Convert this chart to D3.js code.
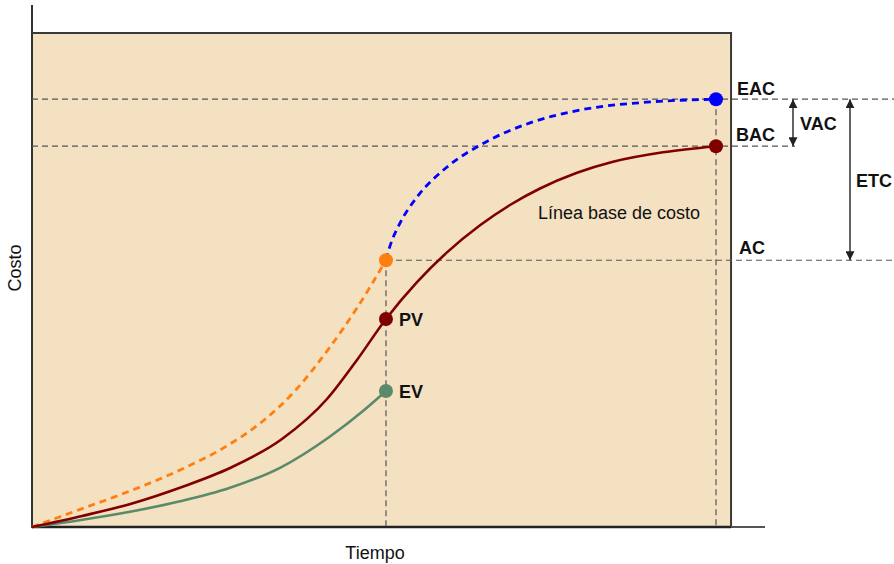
<!DOCTYPE html>
<html><head><meta charset="utf-8">
<script src="https://cdn.jsdelivr.net/npm/d3@7"></script>
<style>body{margin:0;background:#fff}svg{display:block;font-family:"Liberation Sans",Arial,sans-serif}</style>
</head><body><svg id="c" width="894" height="564"></svg>
<script>
// Data (time 0..100, cost 0..100)
const statusTime = 51.75;
const pvCurve = [[0,0],[7.31,2.23],[14.62,4.76],[21.93,8.10],[28.95,11.94],[36.55,17.81],[43.13,25.91],[47.51,33.81],[51.75,42.11],[56.29,49.57],[60.67,55.59],[65.50,61.07],[69.88,65.18],[74.27,68.52],[79.68,71.70],[84.94,73.93],[92.25,75.85],[100,77.09]];
const acCurve = [[0,0],[7.16,3.62],[14.33,7.29],[21.64,11.54],[28.95,16.80],[33.77,21.46],[38.16,27.13],[43.57,36.44],[47.51,44.33],[51.75,54.0]];
const evCurve = [[0,0],[7.16,1.42],[14.33,3.08],[21.64,5.20],[28.95,7.94],[36.26,11.98],[43.57,18.32],[48.39,23.48],[51.75,27.53]];
const eacCurve = [[51.75,54.0],[52.3,56.7],[53.8,61.5],[56.3,66.8],[60.7,72.9],[65.5,77.3],[72.8,81.8],[80.1,84.4],[89.9,86.0],[100,86.6]];
const pvValue = 42.11, evValue = 27.53, acValue = 54.0, bacValue = 77.09, eacValue = 86.6;
const labels = {eac:"EAC", bac:"BAC", ac:"AC", pv:"PV", ev:"EV", vac:"VAC", etc:"ETC", baseline:"Línea base de costo", xTitle:"Tiempo", yTitle:"Costo"};

const svg = d3.select("#c");
const x = d3.scaleLinear().domain([0,100]).range([32,716]);
const y = d3.scaleLinear().domain([0,100]).range([527,33]);
const xEnd = 102.2;

// plot background
svg.append("rect").attr("x",x(0)).attr("y",y(100)).attr("width",x(xEnd)-x(0)).attr("height",y(0)-y(100))
  .attr("fill","#f4e1c2").attr("stroke","#3a3a3a").attr("stroke-width",2);
// axes extensions
svg.append("line").attr("x1",x(0)).attr("x2",x(0)).attr("y1",5).attr("y2",y(0)).attr("stroke","#333").attr("stroke-width",2);
svg.append("line").attr("x1",x(0)).attr("x2",765).attr("y1",y(0)).attr("y2",y(0)).attr("stroke","#555").attr("stroke-width",2);
svg.append("line").attr("x1",x(0)).attr("x2",x(xEnd)).attr("y1",y(0)).attr("y2",y(0)).attr("stroke","#222").attr("stroke-width",2.5);

// dashed reference lines
const dash = {stroke:"#555", "stroke-width":1.2, "stroke-dasharray":"6,4"};
function dl(x1,y1,x2,y2){const l=svg.append("line").attr("x1",x1).attr("y1",y1).attr("x2",x2).attr("y2",y2);for(const k in dash)l.attr(k,dash[k]);}
dl(x(0),y(eacValue),894,y(eacValue));
dl(x(0),y(bacValue),795,y(bacValue));
dl(x(statusTime),y(acValue),894,y(acValue));
dl(x(statusTime),y(acValue),x(statusTime),y(0));
dl(x(100),y(eacValue),x(100),y(0));

// curves
const line = d3.line().x(d=>x(d[0])).y(d=>y(d[1])).curve(d3.curveMonotoneX);
svg.append("path").attr("d",line(evCurve)).attr("fill","none").attr("stroke","#5b8a6b").attr("stroke-width",2.6);
svg.append("path").attr("d",line(acCurve)).attr("fill","none").attr("stroke","#ff7f0e").attr("stroke-width",2.8).attr("stroke-dasharray","7,5");
svg.append("path").attr("d",line(pvCurve)).attr("fill","none").attr("stroke","#800000").attr("stroke-width",2.6);
svg.append("path").attr("d",line(eacCurve)).attr("fill","none").attr("stroke","#0000ff").attr("stroke-width",2.8).attr("stroke-dasharray","7,5");

// dots
const dots = [[statusTime,acValue,"#ff7f0e"],[statusTime,pvValue,"#800000"],[statusTime,evValue,"#5b8a6b"],[100,eacValue,"#0000ff"],[100,bacValue,"#800000"]];
svg.selectAll("circle.d").data(dots).join("circle").attr("cx",d=>x(d[0])).attr("cy",d=>y(d[1])).attr("r",7).attr("fill",d=>d[2]);

// arrows
const defs = svg.append("defs");
defs.append("marker").attr("id","ah").attr("viewBox","0 0 10 10").attr("refX",10).attr("refY",5)
  .attr("markerWidth",9).attr("markerHeight",9).attr("markerUnits","userSpaceOnUse").attr("orient","auto-start-reverse")
  .append("path").attr("d","M0,0L10,5L0,10Z").attr("fill","#222");
function arrow(xp,v1,v2){svg.append("line").attr("x1",xp).attr("x2",xp).attr("y1",y(v1)).attr("y2",y(v2))
  .attr("stroke","#222").attr("stroke-width",1.4).attr("marker-start","url(#ah)").attr("marker-end","url(#ah)");}
arrow(793,eacValue,bacValue);
arrow(850,eacValue,acValue);

// text
function t(txt,xp,yp,opt={}){return svg.append("text").attr("x",xp).attr("y",yp).text(txt)
  .attr("font-size",opt.size||18).attr("font-weight",opt.w||"bold").attr("fill","#111").attr("text-anchor",opt.a||"start");}
t(labels.eac,737,y(eacValue)-4);
t(labels.bac,736,y(bacValue)-5);
t(labels.ac,739,y(acValue)-6);
t(labels.pv,x(statusTime)+13,y(pvValue)+7);
t(labels.ev,x(statusTime)+13,y(evValue)+7);
t(labels.vac,800,y((eacValue+bacValue)/2)+7);
t(labels.etc,856,y((eacValue+acValue)/2)+7);
t(labels.baseline,538,219,{w:"normal",size:18});
t(labels.xTitle,375,559,{w:"normal",size:18,a:"middle"});
svg.append("text").attr("transform","translate(21,268) rotate(-90)").attr("text-anchor","middle")
  .attr("font-size",18).attr("fill","#111").text(labels.yTitle);
</script></body></html>
